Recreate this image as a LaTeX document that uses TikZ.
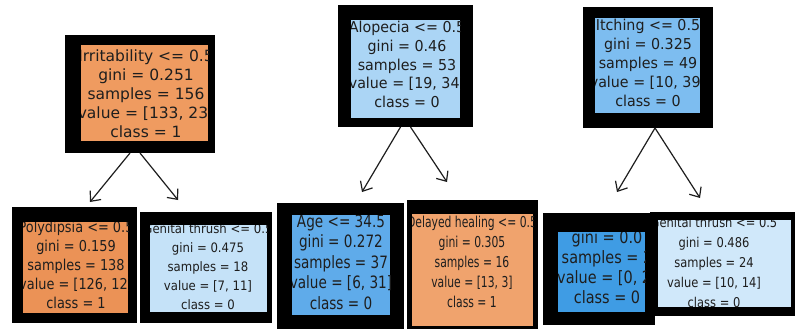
\documentclass[tikz,border=0pt]{standalone}
\usepackage{fontspec}
\setmainfont{DejaVu Sans}
\usepackage{graphicx}
\usetikzlibrary{arrows.meta,fit}

% fill colours of the tree nodes (class 1 = orange, class 0 = blue)
\definecolor{orA}{HTML}{EF9B60}
\definecolor{orB}{HTML}{EB9256}
\definecolor{orC}{HTML}{F0A36D}
\definecolor{blA}{HTML}{ABD5F5}
\definecolor{blB}{HTML}{7DBDF0}
\definecolor{blC}{HTML}{5FABEA}
\definecolor{blD}{HTML}{3F9CE4}
\definecolor{blE}{HTML}{C5E2F8}
\definecolor{blF}{HTML}{D0E8FA}
\definecolor{ink}{HTML}{1E1E1E}

\tikzset{
  outerbox/.style={fill=black, inner sep=0pt, outer sep=0pt},
  nodetext/.style={inner sep=0pt, text=ink},
  edge/.style={draw=ink, line width=1.2pt,
    -{Straight Barb[length=8pt,width=14pt,line width=1.2pt]}}
}

% stacked lines of a node, squeezed horizontally by #1
\newcommand\dtlines[2]{\scalebox{#1}[1]{\begin{tabular}{@{}c@{}}#2\end{tabular}}}

% #1 name, #2/#3 black frame corners, #4/#5 coloured area corners,
% #6 colour, #7 text centre, #8 font, #9 text
\newcommand\treenode[9]{%
  \node[outerbox, fit={(#2) (#3)}] (#1) {};
  \fill[#6] (#4) rectangle (#5);
  \begin{scope}
    \clip (#4) rectangle (#5);
    \node[nodetext, font=#8] (#1-text) at (#7) {#9};
  \end{scope}}

\begin{document}
\begin{tikzpicture}[x=1pt, y=-1pt]
\useasboundingbox[fill=white] (0,0) rectangle (795,329);

% top row
\treenode{r1}{65,35}{215,153}{81,45}{208,141}{orA}{146,96}{\fontsize{15.5}{19}\selectfont}
  {\dtlines{1}{Irritability <= 0.5\\gini = 0.251\\samples = 156\\value = [133, 23]\\class = 1}}
\treenode{r2}{338,5}{473,127}{351,20}{460,118}{blA}{407,66.5}{\fontsize{15}{18.75}\selectfont}
  {\dtlines{0.95}{Alopecia <= 0.5\\gini = 0.46\\samples = 53\\value = [19, 34]\\class = 0}}
\treenode{r3}{583,7}{713,128}{595,18}{700,113}{blB}{648,64.5}{\fontsize{15}{19}\selectfont}
  {\dtlines{0.95}{Itching <= 0.5\\gini = 0.325\\samples = 49\\value = [10, 39]\\class = 0}}

% bottom row
\treenode{c1}{12,207}{137,323}{23,222}{128,313}{orB}{76,267}{\fontsize{15}{19}\selectfont}
  {\dtlines{0.86}{Polydipsia <= 0.5\\gini = 0.159\\samples = 138\\value = [126, 12]\\class = 1}}
\treenode{c2}{140,212}{272,323}{150,225}{267,312}{blE}{208,268}{\fontsize{13}{19}\selectfont}
  {\dtlines{0.9}{Genital thrush <= 0.5\\gini = 0.475\\samples = 18\\value = [7, 11]\\class = 0}}
\treenode{c3}{277,203}{404,329}{292,215}{390,315}{blC}{341,264}{\fontsize{17}{20.5}\selectfont}
  {\dtlines{0.8}{Age <= 34.5\\gini = 0.272\\samples = 37\\value = [6, 31]\\class = 0}}
\treenode{c4}{407,200}{538,329}{412,214}{533,326}{orC}{472,263}{\fontsize{15}{20}\selectfont}
  {\dtlines{0.72}{Delayed healing <= 0.5\\gini = 0.305\\samples = 16\\value = [13, 3]\\class = 1}}
\treenode{c5}{543,213}{655,325}{558,232}{645,312}{blD}{607,269}{\fontsize{17}{20}\selectfont}
  {\dtlines{0.85}{gini = 0.0\\samples = 2\\value = [0, 2]\\class = 0}}
\treenode{c6}{650,212}{795,316}{658,220}{791,307}{blF}{714,263}{\fontsize{13.5}{20}\selectfont}
  {\dtlines{0.85}{Genital thrush <= 0.5\\gini = 0.486\\samples = 24\\value = [10, 14]\\class = 0}}

% free ends of the split arrows
\coordinate (r1l) at (90,202);
\coordinate (r1r) at (178,200);
\coordinate (r2l) at (362,192);
\coordinate (r2r) at (447,182);
\coordinate (r3l) at (617,192);
\coordinate (r3r) at (700,198);

\draw[edge] ([xshift=-10pt]r1.south) -- (r1l);
\draw[edge] (r1.south) -- (r1r);
\draw[edge] ([xshift=-5pt]r2.south) -- (r2l);
\draw[edge] ([xshift=5pt]r2.south) -- (r2r);
\draw[edge] ([xshift=7pt]r3.south) -- (r3l);
\draw[edge] ([xshift=7pt]r3.south) -- (r3r);
\end{tikzpicture}
\end{document}
